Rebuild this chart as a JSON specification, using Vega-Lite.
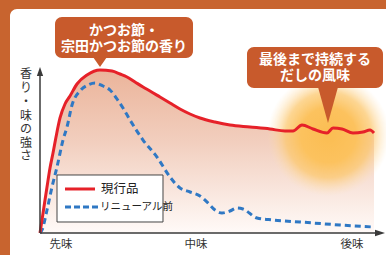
{
  "$schema": "https://vega.github.io/schema/vega-lite/v6.json",
  "width": 376,
  "height": 246,
  "autosize": {"type": "none"},
  "padding": {"left": 10, "top": 9, "right": 0, "bottom": 0},
  "background": "#c8642f",
  "config": {"view": {"stroke": null, "fill": null}, "font": "Noto Sans CJK JP"},
  "datasets": {
    "panel": [{"x": -8.6957, "x2": 100.2899, "y": -13.253, "y2": 134.94}],
    "red": [
      {"x": 0, "y": 0}, {"x": 0.58, "y": 7.83}, {"x": 1.45, "y": 19.88}, {"x": 2.03, "y": 27.71},
      {"x": 2.9, "y": 39.16}, {"x": 3.77, "y": 48.19}, {"x": 4.64, "y": 57.83}, {"x": 5.8, "y": 69.28},
      {"x": 7.25, "y": 77.71}, {"x": 8.7, "y": 82.53}, {"x": 10.72, "y": 89.76}, {"x": 13.62, "y": 95.18},
      {"x": 17.39, "y": 98.19}, {"x": 20.87, "y": 97.59}, {"x": 23.19, "y": 95.78}, {"x": 25.22, "y": 93.98},
      {"x": 27.54, "y": 90.96}, {"x": 29.86, "y": 87.95}, {"x": 31.88, "y": 85.54}, {"x": 34.78, "y": 81.93},
      {"x": 37.68, "y": 78.31}, {"x": 40.58, "y": 74.7}, {"x": 43.48, "y": 71.69}, {"x": 46.38, "y": 69.28},
      {"x": 50.72, "y": 66.87}, {"x": 55.07, "y": 65.06}, {"x": 60.87, "y": 63.86}, {"x": 66.67, "y": 62.65},
      {"x": 71.01, "y": 61.45}, {"x": 73.33, "y": 61.45}, {"x": 75.94, "y": 65.06}, {"x": 79.13, "y": 62.65},
      {"x": 83.19, "y": 60.24}, {"x": 84.93, "y": 63.25}, {"x": 87.54, "y": 62.65}, {"x": 90.72, "y": 60.24},
      {"x": 93.62, "y": 60.84}, {"x": 95.65, "y": 62.05}, {"x": 96.81, "y": 60.24}
    ],
    "blue": [
      {"x": 0, "y": 0}, {"x": 0.58, "y": 1.81}, {"x": 2.03, "y": 13.86}, {"x": 3.48, "y": 27.71},
      {"x": 4.93, "y": 39.76}, {"x": 6.67, "y": 56.02}, {"x": 7.83, "y": 63.86}, {"x": 9.28, "y": 77.11},
      {"x": 11.59, "y": 85.54}, {"x": 13.91, "y": 89.16}, {"x": 15.94, "y": 90.36}, {"x": 18.26, "y": 88.55},
      {"x": 20.29, "y": 86.14}, {"x": 22.32, "y": 80.72}, {"x": 24.06, "y": 75.3}, {"x": 26.09, "y": 68.07},
      {"x": 29.86, "y": 56.02}, {"x": 33.91, "y": 45.78}, {"x": 37.68, "y": 33.73}, {"x": 40.58, "y": 27.11},
      {"x": 43.48, "y": 24.7}, {"x": 46.38, "y": 22.29}, {"x": 48.7, "y": 18.07}, {"x": 50.72, "y": 13.86},
      {"x": 52.75, "y": 12.05}, {"x": 55.07, "y": 13.25}, {"x": 57.1, "y": 15.06}, {"x": 58.84, "y": 14.46},
      {"x": 62.9, "y": 9.04}, {"x": 67.54, "y": 7.83}, {"x": 75.36, "y": 6.63}, {"x": 86.96, "y": 4.82},
      {"x": 96.52, "y": 3.61}
    ],
    "glow": [{"x": 83.6, "y": 59.04}],
    "xaxis": [{"x": 0, "x2": 97.5, "y": 0}],
    "yaxis": [{"x": 0, "y": 0, "y2": 97.0}],
    "xarrow": [{"x": 98.55, "y": 0}],
    "yarrow": [{"x": 0, "y": 97.29}],
    "legbox": [{"x": 4.93, "x2": 35.65, "y": 34.94, "y2": 6.63}],
    "legred": [{"x": 7.25, "x2": 15.94, "y": 26.51}],
    "legblue": [{"x": 7.25, "x2": 16.81, "y": 15.66}],
    "legt1": [{"x": 17.68, "y": 26.51, "t": "現行品"}],
    "legt2": [{"x": 17.39, "y": 15.66, "t": "リニューアル前"}],
    "xlabels": [
      {"x": 6.09, "y": -7.23, "t": "先味"},
      {"x": 45.22, "y": -7.23, "t": "中味"},
      {"x": 90.43, "y": -7.23, "t": "後味"}
    ],
    "ytitle": [
      {"x": -4.06, "y": 95.78, "t": "香"},
      {"x": -4.06, "y": 87.35, "t": "り"},
      {"x": -4.06, "y": 78.92, "t": "・"},
      {"x": -4.06, "y": 70.48, "t": "味"},
      {"x": -4.06, "y": 62.65, "t": "の"},
      {"x": -4.06, "y": 54.22, "t": "強"},
      {"x": -4.06, "y": 46.39, "t": "さ"}
    ],
    "boxes": [
      {"x": 4.35, "x2": 44.35, "y": 130.12, "y2": 105.42},
      {"x": 60.0, "x2": 99.42, "y": 112.05, "y2": 87.35}
    ],
    "ptr1": [{"x": 17.39, "y": 103.01}],
    "ptr2": [{"x": 83.48, "y": 77.11}],
    "ctext": [
      {"x": 24.35, "y": 121.69, "t": "かつお節・"},
      {"x": 24.35, "y": 112.05, "t": "宗田かつお節の香り"},
      {"x": 79.71, "y": 104.22, "t": "最後まで持続する"},
      {"x": 79.71, "y": 94.58, "t": "だしの風味"}
    ]
  },
  "encoding": {
    "x": {"field": "x", "type": "quantitative", "scale": {"domain": [-8.6957, 100.2899], "nice": false, "zero": false}, "axis": null},
    "y": {"field": "y", "type": "quantitative", "scale": {"domain": [-13.253, 134.94], "nice": false, "zero": false}, "axis": null}
  },
  "layer": [
    {"data": {"name": "panel"}, "mark": {"type": "rect", "fill": "#ffffff", "cornerRadiusTopLeft": 7},
     "encoding": {"x2": {"field": "x2"}, "y2": {"field": "y2"}}},
    {"data": {"name": "red"}, "mark": {"type": "area", "interpolate": "monotone",
      "fill": {"gradient": "linear", "x1": 0, "y1": 0, "x2": 0, "y2": 1,
        "stops": [{"offset": 0, "color": "#ebb49a"}, {"offset": 0.45, "color": "#f2cfbf"}, {"offset": 1, "color": "#fffaf8"}]}}},
    {"data": {"name": "glow"}, "mark": {"type": "point", "filled": true, "size": 15000, "opacity": 1, "strokeWidth": 0,
      "fill": {"gradient": "radial", "x1": 0.5, "y1": 0.5, "r1": 0, "x2": 0.5, "y2": 0.5, "r2": 0.5,
        "stops": [{"offset": 0, "color": "#fbbd52"}, {"offset": 0.45, "color": "#fcc25e"}, {"offset": 0.7, "color": "rgba(252,200,110,0.75)"}, {"offset": 1, "color": "rgba(253,225,180,0)"}]}}},
    {"data": {"name": "blue"}, "mark": {"type": "line", "interpolate": "monotone", "color": "#2f78c4", "strokeWidth": 3, "strokeDash": [6, 4]}},
    {"data": {"name": "red"}, "mark": {"type": "line", "interpolate": "monotone", "color": "#e62129", "strokeWidth": 3}},
    {"data": {"name": "xaxis"}, "mark": {"type": "rule", "color": "#3a3a3a", "strokeWidth": 1.5}, "encoding": {"x2": {"field": "x2"}}},
    {"data": {"name": "yaxis"}, "mark": {"type": "rule", "color": "#3a3a3a", "strokeWidth": 1.5}, "encoding": {"y2": {"field": "y2"}}},
    {"data": {"name": "xarrow"}, "mark": {"type": "point", "filled": true, "color": "#3a3a3a", "opacity": 1, "size": 100, "shape": "M1,0L-1,0.65L-1,-0.65Z"}},
    {"data": {"name": "yarrow"}, "mark": {"type": "point", "filled": true, "color": "#3a3a3a", "opacity": 1, "size": 81, "shape": "M0,-1L0.7,1L-0.7,1Z"}},
    {"data": {"name": "legbox"}, "mark": {"type": "rect", "fill": "#ffffff", "stroke": "#444444", "strokeWidth": 1},
     "encoding": {"x2": {"field": "x2"}, "y2": {"field": "y2"}}},
    {"data": {"name": "legred"}, "mark": {"type": "rule", "color": "#e62129", "strokeWidth": 3}, "encoding": {"x2": {"field": "x2"}}},
    {"data": {"name": "legblue"}, "mark": {"type": "rule", "color": "#2f78c4", "strokeWidth": 3, "strokeDash": [6, 3]}, "encoding": {"x2": {"field": "x2"}}},
    {"data": {"name": "legt1"}, "mark": {"type": "text", "align": "left", "baseline": "middle", "fontSize": 12.5, "color": "#222222"}, "encoding": {"text": {"field": "t"}}},
    {"data": {"name": "legt2"}, "mark": {"type": "text", "align": "left", "baseline": "middle", "fontSize": 10.5, "color": "#222222"}, "encoding": {"text": {"field": "t"}}},
    {"data": {"name": "xlabels"}, "mark": {"type": "text", "align": "center", "baseline": "middle", "fontSize": 11.5, "color": "#333333"}, "encoding": {"text": {"field": "t"}}},
    {"data": {"name": "ytitle"}, "mark": {"type": "text", "align": "center", "baseline": "middle", "fontSize": 12, "color": "#333333"}, "encoding": {"text": {"field": "t"}}},
    {"data": {"name": "boxes"}, "mark": {"type": "rect", "fill": "#c85a2c", "cornerRadius": 7}, "encoding": {"x2": {"field": "x2"}, "y2": {"field": "y2"}}},
    {"data": {"name": "ptr1"}, "mark": {"type": "point", "filled": true, "color": "#c85a2c", "opacity": 1, "size": 196, "shape": "M-1,-0.7L1,-0.7L0,0.7Z"}},
    {"data": {"name": "ptr2"}, "mark": {"type": "point", "filled": true, "color": "#c85a2c", "opacity": 1, "size": 1296, "shape": "M-0.556,-1L0.556,-1L0,1Z"}},
    {"data": {"name": "ctext"}, "mark": {"type": "text", "align": "center", "baseline": "middle", "fontSize": 14, "fontWeight": "bold", "color": "#ffffff"}, "encoding": {"text": {"field": "t"}}}
  ]
}
